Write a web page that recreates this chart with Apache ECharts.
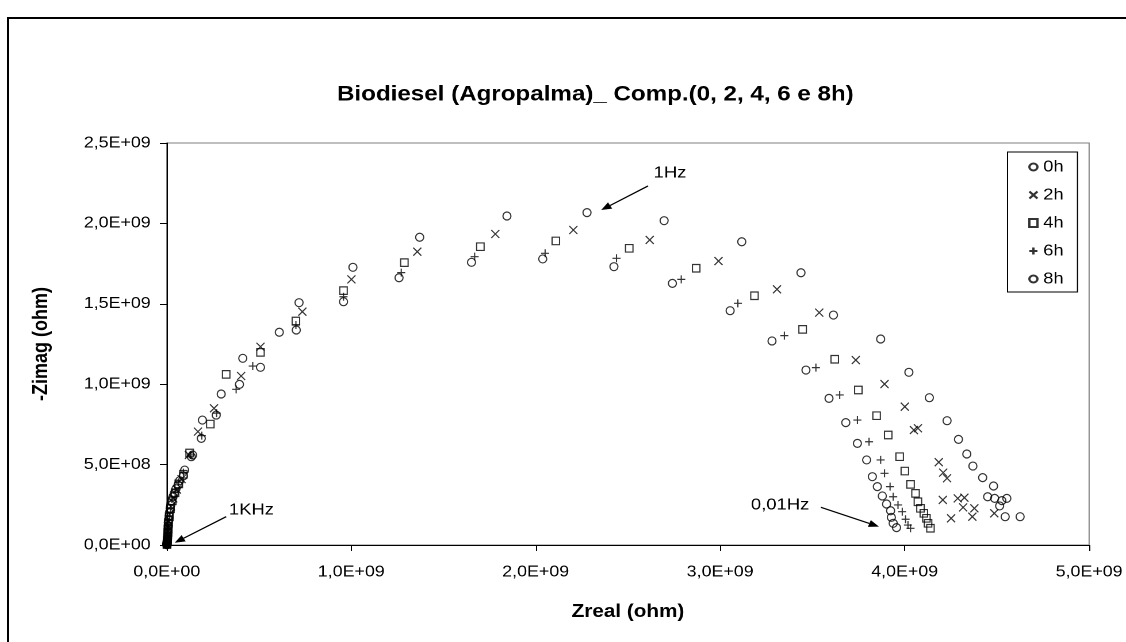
<!DOCTYPE html>
<html><head><meta charset="utf-8">
<script src="https://cdn.jsdelivr.net/npm/echarts@6/dist/echarts.min.js"></script>
<style>
html,body{margin:0;padding:0;background:#fff;overflow:hidden}
#wrap{width:1126px;height:642px;overflow:hidden;position:relative}
#c{width:979px;height:642px;transform:scaleX(1.15015);transform-origin:0 0}
</style>
</head><body><div id="wrap"><div id="c"></div></div>
<script>
// values in units of 1E+09 ohm: [Zreal, -Zimag]
const s0h = [[0.0005,0.002],[0.001,0.006],[0.0015,0.012],[0.002,0.020],[0.003,0.032],[0.004,0.048],[0.005,0.068],[0.006,0.092],[0.007,0.120],[0.009,0.155],[0.014,0.200],[0.022,0.250],[0.034,0.300],[0.050,0.350],[0.070,0.400],[0.097,0.466],[0.140,0.560],[0.193,0.777],[0.295,0.939],[0.412,1.161],[0.610,1.323],[0.717,1.507],[1.009,1.727],[1.371,1.914],[1.844,2.046],[2.278,2.067],[2.696,2.017],[3.117,1.886],[3.438,1.693],[3.614,1.430],[3.870,1.281],[4.023,1.074],[4.134,0.916],[4.230,0.773],[4.292,0.657],[4.337,0.566],[4.370,0.491],[4.423,0.419],[4.482,0.367],[4.450,0.300],[4.488,0.290],[4.527,0.276],[4.554,0.290],[4.515,0.243],[4.545,0.176],[4.626,0.176]];
const s2h = [[0.001,0.004],[0.0015,0.010],[0.002,0.018],[0.003,0.028],[0.004,0.042],[0.005,0.060],[0.006,0.082],[0.008,0.110],[0.010,0.145],[0.015,0.190],[0.022,0.240],[0.035,0.290],[0.055,0.345],[0.080,0.410],[0.120,0.560],[0.169,0.705],[0.256,0.850],[0.403,1.051],[0.508,1.233],[0.735,1.451],[1.001,1.652],[1.358,1.824],[1.781,1.934],[2.204,1.959],[2.618,1.897],[2.991,1.766],[3.308,1.590],[3.537,1.445],[3.735,1.150],[3.891,1.001],[4.001,0.860],[4.050,0.715],[4.072,0.726],[4.185,0.515],[4.209,0.450],[4.230,0.415],[4.207,0.280],[4.288,0.290],[4.324,0.294],[4.317,0.234],[4.378,0.228],[4.252,0.166],[4.367,0.176],[4.486,0.197]];
const s4h = [[0.001,0.003],[0.0015,0.008],[0.002,0.015],[0.003,0.025],[0.004,0.038],[0.005,0.055],[0.006,0.075],[0.008,0.100],[0.010,0.135],[0.014,0.175],[0.020,0.225],[0.030,0.275],[0.045,0.325],[0.065,0.380],[0.090,0.440],[0.124,0.572],[0.236,0.752],[0.322,1.061],[0.508,1.198],[0.700,1.393],[0.958,1.582],[1.288,1.756],[1.700,1.855],[2.109,1.891],[2.507,1.845],[2.870,1.721],[3.186,1.550],[3.447,1.341],[3.621,1.155],[3.749,0.964],[3.848,0.804],[3.911,0.684],[3.973,0.549],[4.001,0.460],[4.032,0.377],[4.059,0.321],[4.072,0.269],[4.086,0.228],[4.104,0.197],[4.118,0.166],[4.127,0.135],[4.140,0.104]];
const s6h = [[0.001,0.003],[0.0015,0.009],[0.002,0.016],[0.003,0.026],[0.004,0.040],[0.005,0.058],[0.006,0.080],[0.008,0.105],[0.010,0.140],[0.014,0.180],[0.020,0.230],[0.028,0.285],[0.045,0.330],[0.065,0.390],[0.090,0.450],[0.130,0.560],[0.190,0.680],[0.270,0.820],[0.376,0.968],[0.466,1.113],[0.700,1.368],[0.958,1.544],[1.271,1.694],[1.669,1.793],[2.051,1.814],[2.438,1.783],[2.789,1.652],[3.096,1.503],[3.348,1.302],[3.519,1.103],[3.648,0.933],[3.744,0.777],[3.807,0.642],[3.870,0.529],[3.891,0.446],[3.921,0.363],[3.938,0.300],[3.964,0.249],[3.987,0.207],[4.005,0.160],[4.018,0.124],[4.032,0.104]];
const s8h = [[0.0005,0.002],[0.001,0.005],[0.0015,0.010],[0.002,0.017],[0.003,0.027],[0.004,0.040],[0.005,0.057],[0.006,0.078],[0.007,0.105],[0.008,0.140],[0.012,0.180],[0.018,0.228],[0.025,0.275],[0.040,0.320],[0.061,0.373],[0.090,0.430],[0.133,0.549],[0.187,0.663],[0.268,0.808],[0.394,0.999],[0.508,1.105],[0.702,1.337],[0.958,1.513],[1.259,1.662],[1.652,1.758],[2.038,1.779],[2.424,1.731],[2.741,1.627],[3.054,1.457],[3.281,1.269],[3.465,1.088],[3.590,0.912],[3.681,0.761],[3.744,0.632],[3.794,0.529],[3.825,0.425],[3.852,0.363],[3.879,0.305],[3.902,0.255],[3.924,0.213],[3.928,0.172],[3.938,0.135],[3.956,0.108]];
const seriesNames = ['0h','2h','4h','6h','8h'];
const xTickLabels = ['0,0E+00','1,0E+09','2,0E+09','3,0E+09','4,0E+09','5,0E+09'];
const yTickLabels = ['0,0E+00','5,0E+08','1,0E+09','1,5E+09','2,0E+09','2,5E+09'];
const titleText = 'Biodiesel (Agropalma)_ Comp.(0, 2, 4, 6 e 8h)';
const xName = 'Zreal (ohm)';
const yName = '-Zimag (ohm)';
const annotations = [
  {text:'1Hz', at:[2.728,2.313], from:[2.609,2.233], to:[2.355,2.083]},
  {text:'1KHz', at:[0.459,0.218], from:[0.322,0.176], to:[0.043,0.014]},
  {text:'0,01Hz', at:[3.325,0.249], from:[3.546,0.234], to:[3.861,0.114]}
];

const E9 = 1e9;
const FONT = 'Liberation Sans, Arial, sans-serif';
const symbols = {
  circle: 'circle',
  cross: 'path://M0,0L10,10M10,0L0,10',
  rect: 'rect',
  plus: 'path://M5,0L5,10M0,5L10,5'
};
const allData = [s0h, s2h, s4h, s6h, s8h];
const symFor = ['circle','cross','rect','plus','circle'];
const sizeFor = [7, 7, 6.5, 7, 7];

const chart = echarts.init(document.getElementById('c'), null, {renderer:'canvas', devicePixelRatio: 2});
const series = allData.map((d, i) => ({
  name: seriesNames[i],
  type: 'scatter',
  symbol: symbols[symFor[i]],
  symbolSize: [sizeFor[i], sizeFor[i] + 1],
  itemStyle: {color: 'rgba(255,255,255,0)', borderColor: '#000', borderWidth: 1.1},
  emphasis: {disabled: true},
  data: d.map(p => [p[0]*E9, p[1]*E9])
}));

chart.setOption({
  animation: false,
  backgroundColor: '#fff',
  title: {text: titleText, left: 288, top: 79,
    textStyle: {fontFamily: FONT, fontSize: 21, fontWeight: 'bold', color: '#000'}},
  legend: {
    orient: 'vertical', left: 876, top: 152,
    data: seriesNames,
    itemWidth: 7, itemHeight: 8, itemGap: 10,
    padding: [6, 12, 4, 18],
    borderColor: '#000', borderWidth: 1, backgroundColor: '#fff',
    textStyle: {fontFamily: FONT, fontSize: 16, color: '#000', lineHeight: 18}
  },
  grid: {left: 145, top: 143, right: 29.5, bottom: 97, show: true, borderColor: '#808080', borderWidth: 1, backgroundColor: '#fff'},
  xAxis: {
    type: 'value', min: 0, max: 5*E9, interval: E9,
    name: xName, nameLocation: 'middle', nameGap: 58,
    nameTextStyle: {fontFamily: FONT, fontSize: 18, fontWeight: 'bold', color: '#000'},
    axisLine: {show: true, onZero: false, lineStyle: {color: '#000', width: 1}},
    axisTick: {show: true, length: 6, inside: false, lineStyle: {color: '#000'}},
    splitLine: {show: false},
    axisLabel: {margin: 19, fontFamily: FONT, fontSize: 15.5, color: '#000',
      formatter: v => xTickLabels[Math.round(v/E9)]}
  },
  yAxis: {
    type: 'value', min: 0, max: 2.5*E9, interval: 0.5*E9,
    name: yName, nameLocation: 'middle', nameGap: 100, nameRotate: 90,
    nameTextStyle: {fontFamily: FONT, fontSize: 18, fontWeight: 'bold', color: '#000'},
    axisLine: {show: true, onZero: false, lineStyle: {color: '#000', width: 1}},
    axisTick: {show: true, length: 6, inside: false, lineStyle: {color: '#000'}},
    splitLine: {show: false},
    axisLabel: {margin: 14, fontFamily: FONT, fontSize: 15.5, color: '#000',
      formatter: v => yTickLabels[Math.round(v/(0.5*E9))]}
  },
  series: series
});

// annotations placed via the chart's own coordinate conversion
const g = [{
  type: 'rect', z: 100, silent: true,
  shape: {x: 7, y: 18, width: 1100, height: 700},
  style: {fill: 'none', stroke: '#000', lineWidth: 2}
}];
annotations.forEach(a => {
  const t = chart.convertToPixel({gridIndex: 0}, [a.at[0]*E9, a.at[1]*E9]);
  const f = chart.convertToPixel({gridIndex: 0}, [a.from[0]*E9, a.from[1]*E9]);
  const p = chart.convertToPixel({gridIndex: 0}, [a.to[0]*E9, a.to[1]*E9]);
  g.push({type: 'text', z: 100, style: {text: a.text, x: t[0], y: t[1], align: 'center', verticalAlign: 'middle',
    font: '16px ' + FONT, fill: '#000'}});
  const dx = p[0]-f[0], dy = p[1]-f[1], L = Math.hypot(dx, dy), ux = dx/L, uy = dy/L;
  const hl = 9, hw = 3.6;
  const bx = p[0]-ux*hl, by = p[1]-uy*hl;
  g.push({type: 'line', z: 100, shape: {x1: f[0], y1: f[1], x2: bx, y2: by}, style: {stroke: '#000', lineWidth: 1.2}});
  g.push({type: 'polygon', z: 100, shape: {points: [[p[0], p[1]], [bx - uy*hw, by + ux*hw], [bx + uy*hw, by - ux*hw]]},
    style: {fill: '#000'}});
});
chart.setOption({graphic: g});
</script>
</body></html>
